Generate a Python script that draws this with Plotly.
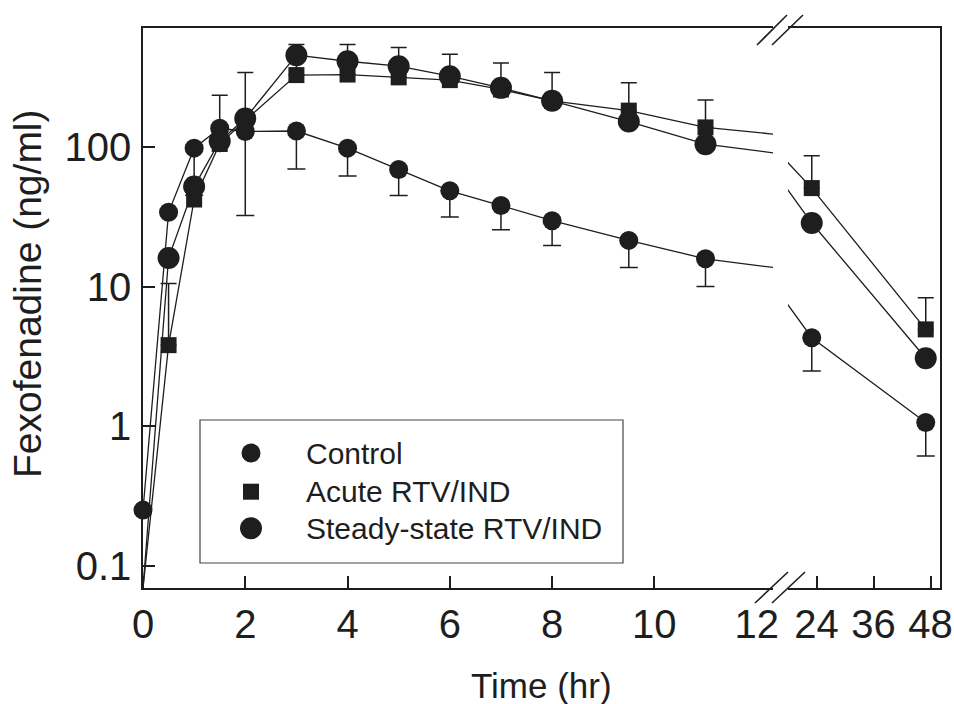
import numpy as np
import plotly.graph_objects as go

# ---------------- data ----------------
time_h = [0, 0.5, 1, 1.5, 2, 3, 4, 5, 6, 7, 8, 9.5, 11, 23, 47]
control = [0.25, 34, 98, 136, 129, 130, 98, 69, 48.5, 38, 29.6, 21.4, 15.8, 4.3, 1.06]
control_low = [None, None, 45, None, 32.3, 69.6, 62, 44.9, 31.5, 25.5, 19.7, 13.7, 10.0, 2.48, 0.61]
acute = [0, 3.8, 42, 105, 155, 327, 330, 315, 301, 258, 214, 182, 138, 50.7, 4.93]
acute_high = [None, 10.5, None, 235, 342, 542, 542, 515, 462, 400, 342, 288, 217, 86.3, 8.3]
steady = [0, 16, 52, 110, 160, 454, 411, 379, 321, 265, 214, 152, 104.6, 28.5, 3.06]

series_names = ["Control", "Acute RTV/IND", "Steady-state RTV/IND"]
x_ticks_left = [0, 2, 4, 6, 8, 10, 12]
x_ticks_right = [24, 36, 48]
y_tickvals = [0.1, 1, 10, 100]
y_ticktext = ["0.1", "1", "10", "100"]

# ---------------- layout geometry ----------------
W, H = 954, 704
PL, PR, PT, PB = 143, 940, 28, 588
LOG_MIN, LOG_MAX = -1.16, 2.852
Y_FLOOR = 10 ** LOG_MIN
LEFT_RANGE = [0, 12.32]
RIGHT_RANGE = [18, 50]


def px(x):
    return (x - PL) / (PR - PL)


def py(y):
    return (PB - y) / (PB - PT)


INK = "#1e1e1e"
FONT = "Liberation Sans, Arial, sans-serif"

t = np.array(time_h, dtype=float)
styles = [
    dict(symbol="circle", size=19),
    dict(symbol="square", size=16),
    dict(symbol="circle", size=22),
]
values = [np.array(control, float), np.array(acute, float), np.array(steady, float)]

fig = go.Figure()

panels = [("x", "y", LEFT_RANGE), ("x2", "y2", RIGHT_RANGE)]

# lines (all points, clipped by each panel)
for xa, ya, rng in panels:
    for v in values:
        yline = np.where(v > 0, v, Y_FLOOR)
        fig.add_trace(go.Scatter(
            x=t, y=yline, mode="lines", xaxis=xa, yaxis=ya,
            line=dict(color=INK, width=1.3), showlegend=False, hoverinfo="skip"))

# error bars
cl = np.array([np.nan if c is None else c for c in control_low])
ah = np.array([np.nan if c is None else c for c in acute_high])
for xa, ya, rng in panels:
    inr = (t >= rng[0]) & (t <= rng[1])
    m = inr & ~np.isnan(cl)
    fig.add_trace(go.Scatter(
        x=t[m], y=values[0][m], mode="markers", xaxis=xa, yaxis=ya,
        marker=dict(size=1, opacity=0), showlegend=False, cliponaxis=False,
        error_y=dict(type="data", symmetric=False,
                     array=np.zeros(m.sum()), arrayminus=values[0][m] - cl[m],
                     color=INK, thickness=1.5, width=9)))
    m = inr & ~np.isnan(ah)
    fig.add_trace(go.Scatter(
        x=t[m], y=values[1][m], mode="markers", xaxis=xa, yaxis=ya,
        marker=dict(size=1, opacity=0), showlegend=False, cliponaxis=False,
        error_y=dict(type="data", symmetric=False,
                     array=ah[m] - values[1][m], arrayminus=np.zeros(m.sum()),
                     color=INK, thickness=1.5, width=8)))

# markers
for xa, ya, rng in panels:
    inr = (t >= rng[0]) & (t <= rng[1])
    for name, v, st in zip(series_names, values, styles):
        m = inr & (v > 0)
        fig.add_trace(go.Scatter(
            x=t[m], y=v[m], mode="markers", xaxis=xa, yaxis=ya, name=name,
            marker=dict(symbol=st["symbol"], size=st["size"], color=INK,
                        line=dict(width=0)),
            cliponaxis=False, showlegend=False))

# legend keys (drawn on a hidden overlay axis spanning the plot area)
legend_rows_px = [453, 491.7, 528.3]
for name, st, ry in zip(series_names, styles, legend_rows_px):
    fig.add_trace(go.Scatter(
        x=[px(251)], y=[py(ry)], mode="markers", xaxis="x3", yaxis="y3",
        marker=dict(symbol=st["symbol"], size=st["size"], color=INK, line=dict(width=0)),
        cliponaxis=False, showlegend=False, hoverinfo="skip"))
    fig.add_annotation(text=name, xref="paper", yref="paper", x=px(304), y=py(ry),
                       xanchor="left", yanchor="middle", showarrow=False,
                       font=dict(family=FONT, size=30, color=INK))

axis_common = dict(showline=True, linecolor=INK, linewidth=1.5, showgrid=False,
                   zeroline=False, tickcolor=INK, tickwidth=1.5,
                   tickfont=dict(family=FONT, size=40, color=INK))

fig.update_layout(
    width=W, height=H, autosize=False,
    margin=dict(l=PL, r=W - PR, t=PT, b=H - PB, pad=0),
    paper_bgcolor="white", plot_bgcolor="rgba(0,0,0,0)",
    font=dict(family=FONT, color=INK),
    showlegend=False,
    xaxis=dict(domain=[0, px(773)], range=LEFT_RANGE, anchor="y", mirror=True,
               tickmode="array", tickvals=x_ticks_left, ticks="",
               minor=dict(tickmode="array", tickvals=x_ticks_left[:-1], ticks="inside",
                          ticklen=12, tickwidth=1.5, tickcolor=INK),
               ticklabelstandoff=0, automargin=False, **axis_common),
    xaxis2=dict(domain=[px(788), 1], range=RIGHT_RANGE, anchor="y2", mirror=True,
                tickmode="array", tickvals=x_ticks_right, ticks="inside", ticklen=12,
                ticklabelstandoff=0, automargin=False, **axis_common),
    yaxis=dict(type="log", range=[LOG_MIN, LOG_MAX], domain=[0, 1], anchor="x",
               tickmode="array", tickvals=y_tickvals, ticktext=y_ticktext,
               ticks="inside", ticklen=12, ticklabelstandoff=2, automargin=False,
               **axis_common),
    yaxis2=dict(type="log", range=[LOG_MIN, LOG_MAX], domain=[0, 1], anchor="x2",
                matches="y", side="right", showticklabels=False, ticks="",
                showline=True, linecolor=INK, linewidth=1.5, showgrid=False,
                zeroline=False, automargin=False),
    xaxis3=dict(domain=[0, 1], range=[0, 1], anchor="y3", visible=False, fixedrange=True),
    yaxis3=dict(domain=[0, 1], range=[0, 1], anchor="x3", visible=False, fixedrange=True),
)

# legend frame
shapes = [dict(type="rect", xref="paper", yref="paper",
               x0=px(200), x1=px(623), y0=py(563), y1=py(420),
               line=dict(color="#444", width=1.2), fillcolor="rgba(0,0,0,0)")]
# axis-break marks (top and bottom)
for (x0, y0, x1, y1) in [(757, 45, 787, 15), (772, 45, 803, 15),
                         (755, 603, 788, 572), (772, 603, 805, 572)]:
    shapes.append(dict(type="line", xref="paper", yref="paper",
                       x0=px(x0), y0=py(y0), x1=px(x1), y1=py(y1),
                       line=dict(color=INK, width=1.6)))
fig.update_layout(shapes=shapes)

fig.add_annotation(text="Time (hr)", xref="paper", yref="paper",
                   x=px(541), y=py(685), xanchor="center", yanchor="middle",
                   showarrow=False, font=dict(family=FONT, size=35, color=INK))
fig.add_annotation(text="Fexofenadine (ng/ml)", xref="paper", yref="paper",
                   x=px(27), y=py(294), xanchor="center", yanchor="middle",
                   textangle=-90, showarrow=False,
                   font=dict(family=FONT, size=39, color=INK))

fig.write_html(
    "out.html", config={"displayModeBar": False, "responsive": False},
    post_script=("document.documentElement.style.overflow='hidden';"
                 "document.body.style.overflow='hidden';"
                 "document.body.style.margin='0';document.body.style.padding='0';"))
